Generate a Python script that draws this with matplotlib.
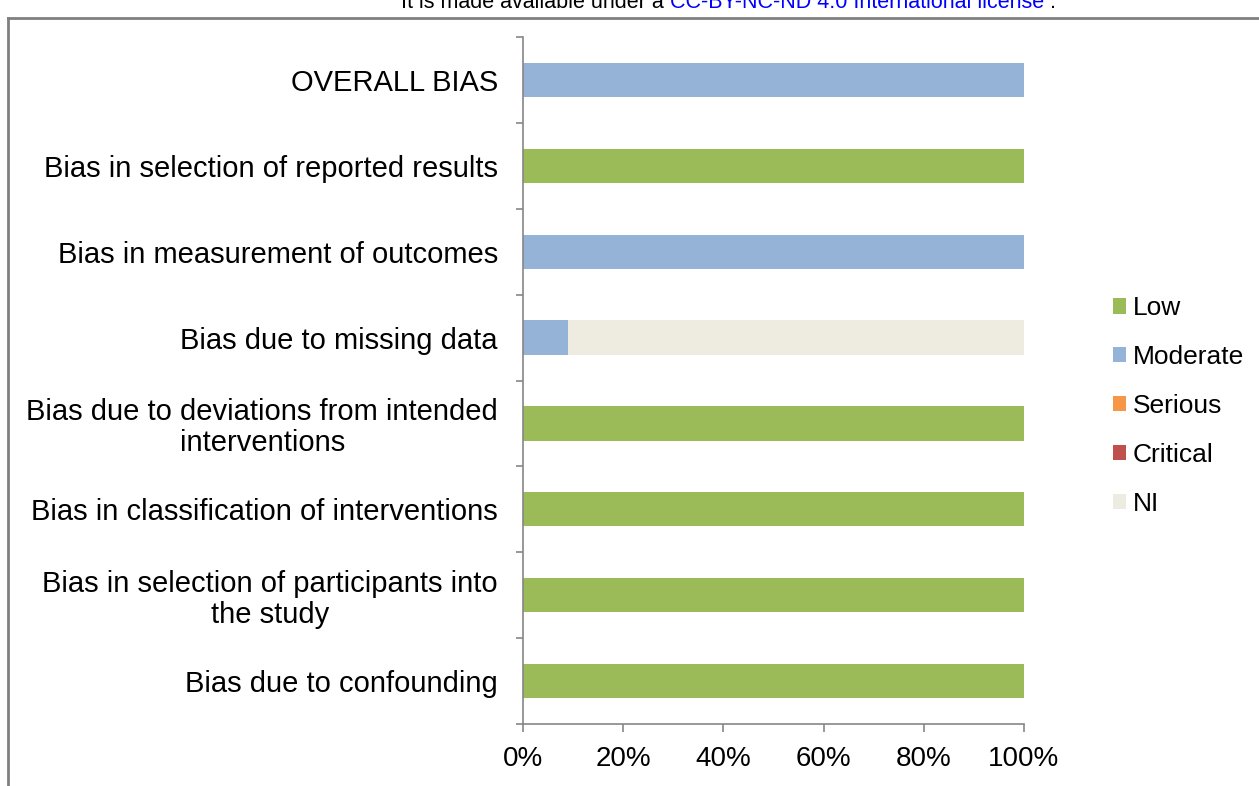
import matplotlib
matplotlib.use("Agg")
import matplotlib.pyplot as plt
from matplotlib.lines import Line2D
from matplotlib.patches import Patch
import numpy as np

plt.rcParams['font.family'] = ['Liberation Sans', 'DejaVu Sans']

categories = [
    "Bias due to confounding",
    "Bias in selection of participants into\nthe study",
    "Bias in classification of interventions",
    "Bias due to deviations from intended\ninterventions",
    "Bias due to missing data",
    "Bias in measurement of outcomes",
    "Bias in selection of reported results",
    "OVERALL BIAS",
]
low      = [100, 100, 100, 100, 0,   0,   100, 0]
moderate = [0,   0,   0,   0,   9,   100, 0,   100]
serious  = [0,   0,   0,   0,   0,   0,   0,   0]
critical = [0,   0,   0,   0,   0,   0,   0,   0]
ni       = [0,   0,   0,   0,   91,  0,   0,   0]

series = [("Low", low, "#9BBB59"), ("Moderate", moderate, "#95B3D7"),
          ("Serious", serious, "#F79646"), ("Critical", critical, "#C0504D"),
          ("NI", ni, "#EEECE1")]

W, H = 1259, 786
fig = plt.figure(figsize=(W/100, H/100), dpi=100)

# outer border (only left and top visible)
fig.add_artist(Line2D([8/W, 8/W], [0, 1-18/H], color="#808080", lw=2, transform=fig.transFigure))
fig.add_artist(Line2D([8/W, 1], [1-18/H, 1-18/H], color="#808080", lw=2, transform=fig.transFigure))

# clipped header text, chained pieces
renderer = fig.canvas.get_renderer()
x0 = 401
pieces = [("It is made available under a ", "black"),
          ("CC-BY-NC-ND 4.0 International license", "#0000FF"),
          (" .", "black")]
for txt, col in pieces:
    t = fig.text(x0/W, 1-2/H, txt, ha="left", va="center", fontsize=15.5, color=col)
    bb = t.get_window_extent(renderer)
    x0 += bb.width

ax = fig.add_axes([523/W, 1-724/H, (1024-523)/W, (724-37)/H])
y = np.arange(len(categories))
left = np.zeros(len(categories))
handles = []
for name, vals, col in series:
    vals = np.array(vals, dtype=float)
    ax.barh(y, vals, left=left, height=0.4, color=col, label=name)
    left += vals
    handles.append(Patch(facecolor=col, edgecolor="none", label=name))

ax.set_xlim(0, 100)
ax.set_ylim(-0.5, len(categories) - 0.5)
ax.set_xticks(np.arange(0, 101, 20))
ax.set_xticklabels([f"{v}%" for v in range(0, 101, 20)], fontsize=20)
ax.set_yticks(y)
ax.set_yticklabels(categories, fontsize=21, ha="right", multialignment="center", linespacing=1.12)
ax.tick_params(axis="y", length=0, pad=18)
ax.set_yticks(np.arange(-0.5, len(categories), 1), minor=True)
ax.tick_params(axis="y", which="minor", length=5, color="#868686", width=1.2)
ax.tick_params(axis="x", length=6, color="#868686", width=1.2, pad=10)
for s in ["top", "right"]:
    ax.spines[s].set_visible(False)
for s in ["left", "bottom"]:
    ax.spines[s].set_color("#868686")
    ax.spines[s].set_linewidth(1.2)

leg = fig.legend(handles=handles, loc="center left", bbox_to_anchor=(1113/W, 1-406/H),
                 frameon=False, fontsize=19, handlelength=0.5, handleheight=0.5,
                 handletextpad=0.25, labelspacing=0.94, borderaxespad=0, borderpad=0)

fig.savefig("out.png", dpi=100)
